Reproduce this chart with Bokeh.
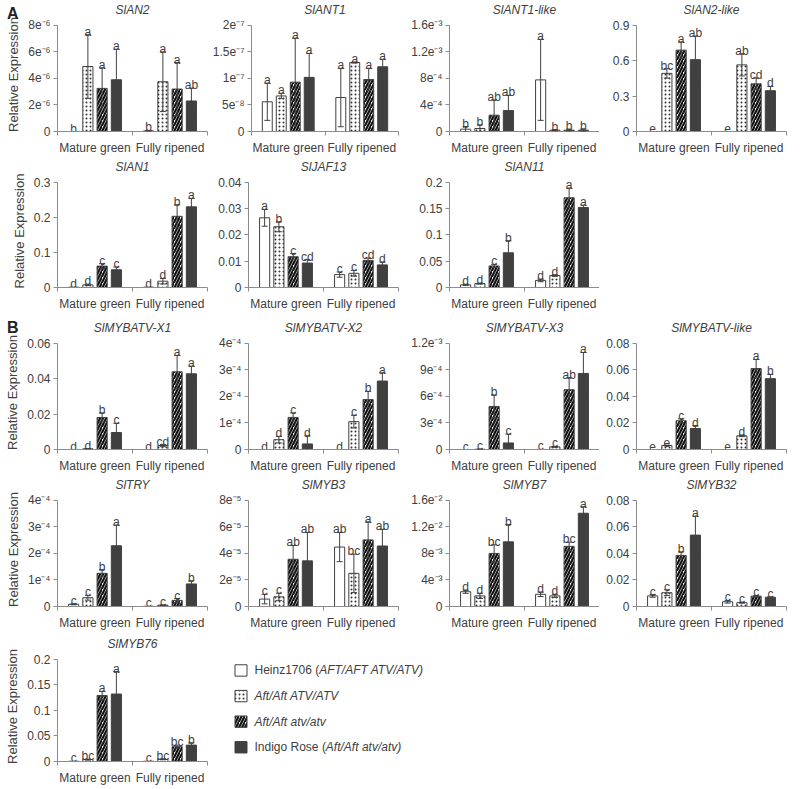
from bokeh.plotting import figure
from bokeh.layouts import column, row
from bokeh.models import (Range1d, FixedTicker, CustomJSTickFormatter, ColumnDataSource,
                          Whisker, TeeHead, Div)
from bokeh.embed import file_html
from bokeh.resources import INLINE
from bokeh.core.properties import value

FONT = "Liberation Sans"
TXT = "#404040"
AXC = "#8c8c8c"

stages = ["Mature green", "Fully ripened"]
genotypes = ["Heinz1706", "Aft/Aft ATV/ATV", "Aft/Aft atv/atv", "Indigo Rose"]

# values ordered: Mature green (4 genotypes), then Fully ripened (4 genotypes)
AN2_mean = [0, 4.9e-6, 3.25e-6, 3.9e-6, 0.05e-6, 3.75e-6, 3.2e-6, 2.3e-6]
AN2_err = [0, 2.4e-6, 1.55e-6, 2.3e-6, 0.03e-6, 2.25e-6, 2.0e-6, 0.97e-6]
AN2_sig = ["b", "a", "a", "a", "b", "a", "a", "ab"]
AN2_ticks = [0, 2e-6, 4e-6, 6e-6, 8e-6]
AN2_labels = ["0", "2e⁻⁶", "4e⁻⁶", "6e⁻⁶", "8e⁻⁶"]

ANT1_mean = [5.6e-8, 6.7e-8, 9.3e-8, 1.02e-7, 6.4e-8, 1.3e-7, 9.8e-8, 1.22e-7]
ANT1_err = [3.5e-8, 0.5e-8, 8.3e-8, 4.5e-8, 5.5e-8, 0.1e-8, 2.1e-8, 1.4e-8]
ANT1_sig = ["a", "a", "a", "a", "a", "a", "a", "a"]
ANT1_ticks = [0, 5e-8, 1e-7, 1.5e-7, 2e-7]
ANT1_labels = ["0", "5e⁻⁸", "1e⁻⁷", "1.5e⁻⁷", "2e⁻⁷"]

ANT1L_mean = [0.035e-3, 0.045e-3, 0.246e-3, 0.315e-3, 0.778e-3, 0.02e-3, 0.02e-3, 0.02e-3]
ANT1L_err = [0.04e-3, 0.055e-3, 0.23e-3, 0.23e-3, 0.61e-3, 0.01e-3, 0.015e-3, 0.02e-3]
ANT1L_sig = ["b", "b", "ab", "ab", "a", "b", "b", "b"]
ANT1L_ticks = [0, 4e-4, 8e-4, 1.2e-3, 1.6e-3]
ANT1L_labels = ["0", "4e⁻⁴", "8e⁻⁴", "1.2e⁻³", "1.6e⁻³"]

AN2L_mean = [0, 0.493, 0.69, 0.609, 0, 0.565, 0.404, 0.346]
AN2L_err = [0, 0.04, 0.07, 0.2, 0, 0.094, 0.05, 0.036]
AN2L_sig = ["e", "bc", "a", "ab", "e", "ab", "cd", "d"]
AN2L_ticks = [0, 0.3, 0.6, 0.9]
AN2L_labels = ["0", "0.3", "0.6", "0.9"]

AN1_mean = [0.001, 0.0074, 0.061, 0.0506, 0.001, 0.018, 0.203, 0.23]
AN1_err = [0, 0.002, 0.007, 0.008, 0, 0.008, 0.033, 0.024]
AN1_sig = ["d", "d", "c", "c", "d", "d", "b", "a"]
AN1_ticks = [0, 0.1, 0.2, 0.3]
AN1_labels = ["0", "0.1", "0.2", "0.3"]

JAF13_mean = [0.0265, 0.0231, 0.0117, 0.0093, 0.0049, 0.0054, 0.0103, 0.0086]
JAF13_err = [0.0032, 0.0019, 0.0012, 0.0013, 0.001, 0.0011, 0.0009, 0.0011]
JAF13_sig = ["a", "b", "c", "cd", "c", "c", "cd", "d"]
JAF13_ticks = [0, 0.01, 0.02, 0.03, 0.04]
JAF13_labels = ["0", "0.01", "0.02", "0.03", "0.04"]

AN11_mean = [0.005, 0.0074, 0.041, 0.066, 0.0135, 0.0227, 0.1705, 0.152]
AN11_err = [0.001, 0.001, 0.003, 0.023, 0.0025, 0.0015, 0.0185, 0.0045]
AN11_sig = ["d", "d", "c", "b", "d", "d", "a", "a"]
AN11_ticks = [0, 0.05, 0.1, 0.15, 0.2]
AN11_labels = ["0", "0.05", "0.1", "0.15", "0.2"]

X1_mean = [0, 0.0004, 0.0181, 0.0096, 0, 0.0022, 0.0439, 0.0428]
X1_err = [0, 0.0001, 0.0026, 0.0052, 0, 0.0006, 0.0093, 0.0043]
X1_sig = ["d", "d", "b", "c", "d", "cd", "a", "a"]
X1_ticks = [0, 0.02, 0.04, 0.06]
X1_labels = ["0", "0.02", "0.04", "0.06"]

X2_mean = [0, 0.37e-4, 1.21e-4, 0.21e-4, 0, 1.05e-4, 1.88e-4, 2.58e-4]
X2_err = [0, 0.12e-4, 0.17e-4, 0.31e-4, 0, 0.24e-4, 0.31e-4, 0.31e-4]
X2_sig = ["d", "d", "c", "d", "d", "c", "b", "a"]
X2_ticks = [0, 1e-4, 2e-4, 3e-4, 4e-4]
X2_labels = ["0", "1e⁻⁴", "2e⁻⁴", "3e⁻⁴", "4e⁻⁴"]

X3_mean = [0, 0.03e-4, 4.87e-4, 0.74e-4, 0.01e-4, 0.3e-4, 6.76e-4, 8.6e-4]
X3_err = [0, 0.01e-4, 1.3e-4, 1.0e-4, 0, 0.05e-4, 1.36e-4, 2.37e-4]
X3_sig = ["c", "c", "b", "c", "c", "c", "ab", "a"]
X3_ticks = [0, 3e-4, 6e-4, 9e-4, 1.2e-3]
X3_labels = ["0", "3e⁻⁴", "6e⁻⁴", "9e⁻⁴", "1.2e⁻³"]

XL_mean = [0, 0.003, 0.0217, 0.0158, 0, 0.0103, 0.061, 0.0534]
XL_err = [0, 0.0003, 0.0015, 0.0022, 0, 0.0006, 0.0069, 0.0032]
XL_sig = ["e", "e", "c", "d", "e", "d", "a", "b"]
XL_ticks = [0, 0.02, 0.04, 0.06, 0.08]
XL_labels = ["0", "0.02", "0.04", "0.06", "0.08"]

TRY_mean = [0.085e-4, 0.33e-4, 1.25e-4, 2.29e-4, 0.01e-4, 0.05e-4, 0.23e-4, 0.85e-4]
TRY_err = [0.02e-4, 0.09e-4, 0.14e-4, 0.78e-4, 0, 0.01e-4, 0.07e-4, 0.12e-4]
TRY_sig = ["c", "c", "b", "a", "c", "c", "c", "b"]
TRY_ticks = [0, 1e-4, 2e-4, 3e-4, 4e-4]
TRY_labels = ["0", "1e⁻⁴", "2e⁻⁴", "3e⁻⁴", "4e⁻⁴"]

MYB3_mean = [0.56e-5, 0.73e-5, 3.56e-5, 3.44e-5, 4.48e-5, 2.5e-5, 5.02e-5, 4.56e-5]
MYB3_err = [0.36e-5, 0.27e-5, 1.04e-5, 2.14e-5, 1.1e-5, 1.45e-5, 1.36e-5, 1.26e-5]
MYB3_sig = ["c", "c", "ab", "ab", "ab", "bc", "a", "ab"]
MYB3_ticks = [0, 2e-5, 4e-5, 6e-5, 8e-5]
MYB3_labels = ["0", "2e⁻⁵", "4e⁻⁵", "6e⁻⁵", "8e⁻⁵"]

MYB7_mean = [2.23e-3, 1.6e-3, 8.0e-3, 9.75e-3, 1.84e-3, 1.6e-3, 9.07e-3, 14.06e-3]
MYB7_err = [0.24e-3, 0.39e-3, 1.3e-3, 2.6e-3, 0.34e-3, 0.24e-3, 0.63e-3, 0.97e-3]
MYB7_sig = ["d", "d", "bc", "b", "d", "d", "bc", "a"]
MYB7_ticks = [0, 4e-3, 8e-3, 1.2e-2, 1.6e-2]
MYB7_labels = ["0", "4e⁻³", "8e⁻³", "1.2e⁻²", "1.6e⁻²"]

MYB32_mean = [0.008, 0.0104, 0.0385, 0.0538, 0.0036, 0.0029, 0.0078, 0.007]
MYB32_err = [0.001, 0.0022, 0.0027, 0.0143, 0.001, 0.0004, 0.0005, 0.0003]
MYB32_sig = ["c", "c", "b", "a", "c", "c", "c", "c"]
MYB32_ticks = [0, 0.02, 0.04, 0.06, 0.08]
MYB32_labels = ["0", "0.02", "0.04", "0.06", "0.08"]

MYB76_mean = [0.0005, 0.0037, 0.129, 0.1317, 0.0005, 0.0043, 0.029, 0.032]
MYB76_err = [0, 0.001, 0.008, 0.044, 0, 0.001, 0.003, 0.0046]
MYB76_sig = ["c", "bc", "a", "a", "c", "bc", "bc", "b"]
MYB76_ticks = [0, 0.05, 0.1, 0.15, 0.2]
MYB76_labels = ["0", "0.05", "0.1", "0.15", "0.2"]

panel_tags = ["A", "B"]

# ---------------------------------------------------------------------------
STYLES = [
    dict(fill_color="white", line_color=TXT),
    dict(fill_color="white", line_color=TXT, hatch_pattern="dot", hatch_scale=4,
         hatch_weight=0.5, hatch_color="#333333"),
    dict(fill_color="white", line_color=TXT, hatch_pattern="right_diagonal_line",
         hatch_scale=6, hatch_weight=2.2, hatch_color="#111111"),
    dict(fill_color=TXT, line_color=TXT),
]
OFFSETS = [-0.285, -0.095, 0.095, 0.285]
BAR_W = 0.135

JS_FMT = """
for (let i = 0; i < vals.length; i++) {
  if (Math.abs(vals[i] - tick) <= 1e-6 * Math.abs(vals[i]) + 1e-15) return labs[i];
}
return "";
"""

# (figure width, left border, right border) per column -> frame 150 px
COLS = [(209, 57, 2), (193, 39, 4), (197, 47, 0), (191, 37, 4)]
# (top border, bottom border) per row; frame height = TICK_H + EXT
ROWS = [(17, 24), (16, 24), (22, 24), (17, 24), (19, 20)]
TICK_H = 108
EXT = 8


def panel(col, rw, title, mean, err, sig, ticks, tlabels):
    width, left, right = COLS[col]
    tb, bb = ROWS[rw]
    height = tb + TICK_H + EXT + bb
    top = ticks[-1]
    p = figure(width=width, height=height, x_range=Range1d(0, 2),
               y_range=Range1d(0, top * (TICK_H + EXT) / TICK_H), toolbar_location=None,
               output_backend="svg", min_border_left=left, min_border_right=right,
               min_border_top=tb, min_border_bottom=bb)
    p.outline_line_color = None
    p.xgrid.visible = False
    p.ygrid.visible = False
    p.background_fill_color = "white"
    p.border_fill_color = "white"

    for g in range(4):
        xs = [s + 0.5 + OFFSETS[g] for s in range(2)]
        ys = [mean[s * 4 + g] for s in range(2)]
        p.vbar(x="x", top="top", width=BAR_W, line_width=1,
               source=ColumnDataSource(dict(x=xs, top=ys)), **STYLES[g])

    xs_all, ly = [], []
    for s in range(2):
        for g in range(4):
            i = s * 4 + g
            xs_all.append(s + 0.5 + OFFSETS[g])
            ly.append(mean[i] + err[i])
    keep = [i for i in range(8) if err[i] > 0]
    wsrc = ColumnDataSource(dict(x=[xs_all[i] for i in keep],
                                 upper=[mean[i] + err[i] for i in keep],
                                 lower=[mean[i] - err[i] for i in keep]))
    w = Whisker(base="x", upper="upper", lower="lower", source=wsrc, dimension="height",
                line_color=TXT, line_width=1, level="overlay",
                upper_head=TeeHead(size=6, line_color=TXT, line_width=1),
                lower_head=TeeHead(size=6, line_color=TXT, line_width=1))
    p.add_layout(w)

    tsrc = ColumnDataSource(dict(x=xs_all, y=ly, t=sig))
    p.text(x="x", y="y", text="t", source=tsrc, text_align="center",
           text_baseline="alphabetic", y_offset=-3, text_font=value(FONT),
           text_font_size="12px", text_color=TXT)

    ya = p.yaxis[0]
    ya.ticker = FixedTicker(ticks=ticks)
    ya.formatter = CustomJSTickFormatter(args=dict(vals=ticks, labs=tlabels), code=JS_FMT)
    ya.bounds = (0, top)
    ya.major_tick_out = 4
    ya.major_tick_in = 0
    ya.minor_tick_out = 0
    ya.minor_tick_in = 0
    ya.major_label_standoff = 3
    xa = p.xaxis[0]
    xa.ticker = FixedTicker(ticks=[0.5, 1.5], minor_ticks=[0, 1, 2])
    xa.formatter = CustomJSTickFormatter(args=dict(vals=[0.5, 1.5], labs=stages), code=JS_FMT)
    xa.major_tick_out = 0
    xa.major_tick_in = 0
    xa.minor_tick_out = 4
    xa.minor_tick_in = 0
    xa.major_label_standoff = 5
    for ax in (xa, ya):
        ax.axis_line_color = AXC
        ax.major_tick_line_color = AXC
        ax.minor_tick_line_color = AXC
        ax.major_label_text_font = FONT
        ax.major_label_text_font_size = "12px"
        ax.major_label_text_color = TXT
    if col == 0:
        ya.axis_label = "Relative Expression"
        ya.axis_label_text_font = FONT
        ya.axis_label_text_font_size = "13px"
        ya.axis_label_text_font_style = "normal"
        ya.axis_label_text_color = TXT
        ya.axis_label_standoff = 4

    p.title.text = title
    p.title.align = "center"
    p.title.text_font = FONT
    p.title.text_font_size = "12px"
    p.title.text_font_style = "italic"
    p.title.text_color = TXT
    p.title.standoff = 1
    return p


r1 = row(
    panel(0, 0, "SlAN2", AN2_mean, AN2_err, AN2_sig, AN2_ticks, AN2_labels),
    panel(1, 0, "SlANT1", ANT1_mean, ANT1_err, ANT1_sig, ANT1_ticks, ANT1_labels),
    panel(2, 0, "SlANT1-like", ANT1L_mean, ANT1L_err, ANT1L_sig, ANT1L_ticks, ANT1L_labels),
    panel(3, 0, "SlAN2-like", AN2L_mean, AN2L_err, AN2L_sig, AN2L_ticks, AN2L_labels),
)
r2 = row(
    panel(0, 1, "SlAN1", AN1_mean, AN1_err, AN1_sig, AN1_ticks, AN1_labels),
    panel(1, 1, "SlJAF13", JAF13_mean, JAF13_err, JAF13_sig, JAF13_ticks, JAF13_labels),
    panel(2, 1, "SlAN11", AN11_mean, AN11_err, AN11_sig, AN11_ticks, AN11_labels),
)
r3 = row(
    panel(0, 2, "SlMYBATV-X1", X1_mean, X1_err, X1_sig, X1_ticks, X1_labels),
    panel(1, 2, "SlMYBATV-X2", X2_mean, X2_err, X2_sig, X2_ticks, X2_labels),
    panel(2, 2, "SlMYBATV-X3", X3_mean, X3_err, X3_sig, X3_ticks, X3_labels),
    panel(3, 2, "SlMYBATV-like", XL_mean, XL_err, XL_sig, XL_ticks, XL_labels),
)
r4 = row(
    panel(0, 3, "SlTRY", TRY_mean, TRY_err, TRY_sig, TRY_ticks, TRY_labels),
    panel(1, 3, "SlMYB3", MYB3_mean, MYB3_err, MYB3_sig, MYB3_ticks, MYB3_labels),
    panel(2, 3, "SlMYB7", MYB7_mean, MYB7_err, MYB7_sig, MYB7_ticks, MYB7_labels),
    panel(3, 3, "SlMYB32", MYB32_mean, MYB32_err, MYB32_sig, MYB32_ticks, MYB32_labels),
)
p16 = panel(0, 4, "SlMYB76", MYB76_mean, MYB76_err, MYB76_sig, MYB76_ticks, MYB76_labels)

# ---------------- legend (frame aligned with the SlMYB76 frame) ----------------
LEG_W = 560
FR_H = TICK_H + EXT
leg = figure(width=LEG_W, height=sum(ROWS[4]) + FR_H, title=None, x_range=Range1d(0, LEG_W),
             y_range=Range1d(FR_H, 0), toolbar_location=None, output_backend="svg",
             x_axis_location=None, y_axis_location=None, min_border_left=0,
             min_border_right=0, min_border_top=ROWS[4][0], min_border_bottom=ROWS[4][1])
leg.outline_line_color = None
leg.xgrid.visible = False
leg.ygrid.visible = False

legend_parts = [
    [("Heinz1706 (", "normal"), ("AFT/AFT ATV/ATV)", "italic")],
    [("Aft/Aft ATV/ATV", "italic")],
    [("Aft/Aft atv/atv", "italic")],
    [("Indigo Rose (", "normal"), ("Aft/Aft atv/atv)", "italic")],
]
ARIAL = {" ": 278, "(": 333, ")": 333, "/": 278, "A": 667, "F": 611, "T": 611, "V": 667,
         "H": 722, "I": 278, "R": 722, "a": 556, "d": 556, "e": 556, "f": 278, "g": 556,
         "i": 222, "n": 556, "o": 556, "s": 500, "t": 278, "v": 500, "z": 500}


def text_w(s, size=12):
    return sum(ARIAL.get(c, 556) for c in s) * size / 1000.0


LEG_Y = [20, 47, 74, 101]
SW_X = 31.5
TX0 = 45
for k in range(4):
    y = LEG_Y[k]
    leg.rect(x=[SW_X], y=[y], width=12, height=12, line_width=1, **STYLES[k])
    xcur = TX0
    for txt, style in legend_parts[k]:
        leg.text(x=[xcur], y=[y], text=[txt], text_align="left", text_baseline="middle",
                 text_font=value(FONT), text_font_size="12px", text_font_style=style,
                 text_color=TXT)
        xcur += text_w(txt)

r5 = row(p16, leg)

# panel letters "A" and "B", laid over the top-left corners of the two blocks
tag_css = "position:absolute;left:2px;font-family:'Liberation Sans';font-weight:bold;" \
          "font-size:16px;line-height:16px;color:#222222;"
tags = Div(text=(f'<div style="{tag_css}top:1px;">{panel_tags[0]}</div>'
                 f'<div style="{tag_css}top:315px;">{panel_tags[1]}</div>'),
           width=20, height=340,
           styles={"position": "absolute", "left": "0px", "top": "0px", "z-index": "10"})

layout = column(tags, r1, r2, r3, r4, r5)

open("out.html", "w").write(file_html(layout, INLINE, title="Relative expression"))
